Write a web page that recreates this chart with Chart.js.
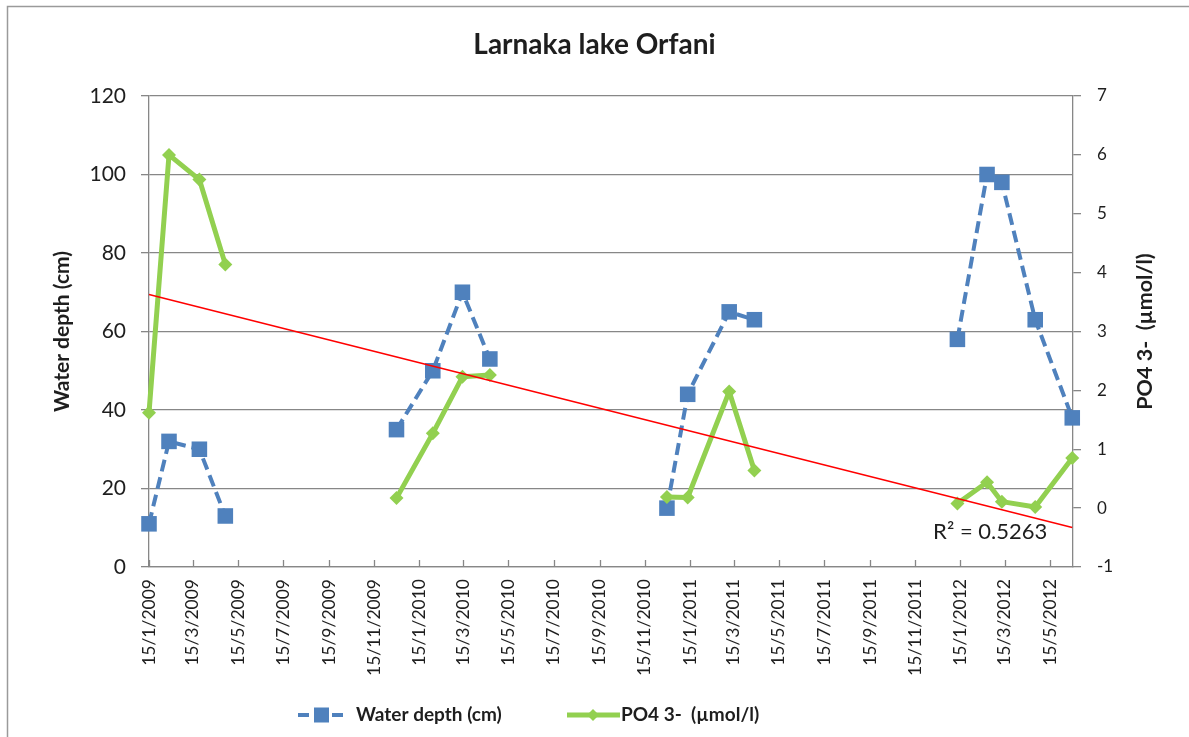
<!DOCTYPE html>
<html><head><meta charset="utf-8">
<script src="https://cdn.jsdelivr.net/npm/chart.js@4/dist/chart.umd.min.js"></script>
<style>html,body{margin:0;padding:0;background:#fff}#wrap{position:relative;width:1189px;height:737px}</style>
</head><body><div id="wrap"><canvas id="c" width="1189" height="737"></canvas></div>
<script>
const chartTitle = 'Larnaka lake Orfani';
const leftAxisTitle = 'Water depth (cm)';
const rightAxisTitle = 'PO4 3-  (\u00b5mol/l)';
const seriesNames = ['Water depth (cm)', 'PO4 3-  (\u00b5mol/l)'];
const sampleDates = ['15/1/2009','11/2/2009','24/3/2009','28/4/2009','15/8/2009',
  '15/12/2009','2/2/2010','14/3/2010','20/4/2010','15/8/2010',
  '15/12/2010','12/1/2011','9/3/2011','12/4/2011','15/8/2011',
  '11/1/2012','20/2/2012','11/3/2012','25/4/2012','14/6/2012'];
const waterDepth = [11,32,30,13,null, 35,50,70,53,null, 15,44,65,63,null, 58,100,98,63,38];
const po4 = [1.62,6.0,5.58,4.14,null, 0.17,1.27,2.23,2.26,null, 0.19,0.18,1.98,0.64,null, 0.08,0.44,0.11,0.02,0.85];
const trendDates = ['15/1/2009','14/6/2012'];
const trendPO4 = [3.63,-0.33];
const trendLabel = 'R\u00b2 = 0.5263';
const xRange = ['15/1/2009','15/6/2012'];
const xTickLabels = ['15/1/2009','15/3/2009','15/5/2009','15/7/2009','15/9/2009','15/11/2009',
  '15/1/2010','15/3/2010','15/5/2010','15/7/2010','15/9/2010','15/11/2010',
  '15/1/2011','15/3/2011','15/5/2011','15/7/2011','15/9/2011','15/11/2011',
  '15/1/2012','15/3/2012','15/5/2012'];
const depthRange = [0,120,20];
const po4Range = [-1,7,1];

const BLUE = '#4F81BD', GREEN = '#92D050', RED = '#FF0000', GRID = '#878787', TXT = '#1e1e1e';
const FONT = 'Lato, "Open Sans", sans-serif';

function dayNum(s){const p=s.split('/').map(Number);const b=xRange[0].split('/').map(Number);
  return Math.round((Date.UTC(p[2],p[1]-1,p[0])-Date.UTC(b[2],b[1]-1,b[0]))/86400000);}
const tickMap = {};
xTickLabels.forEach(l=>{tickMap[dayNum(l)] = l;});

const extras = {
  id:'extras',
  beforeDraw(chart){
    const ctx=chart.ctx; ctx.save();
    ctx.strokeStyle='#9a9a9a'; ctx.lineWidth=1.5;
    ctx.strokeRect(7.5,6.5,3000,3000);
    ctx.restore();
  },
  afterDraw(chart){
    const ctx=chart.ctx, xs=chart.scales.x, y2=chart.scales.y2, ca=chart.chartArea;
    ctx.save();
    ctx.strokeStyle=GRID; ctx.lineWidth=1.3;
    xs.ticks.forEach(t=>{const px=Math.round(xs.getPixelForValue(t.value))+0.5;
      ctx.beginPath();ctx.moveTo(px,ca.bottom);ctx.lineTo(px,ca.bottom-7);ctx.stroke();});
    ctx.fillStyle=TXT; ctx.font='bold 21.5px '+FONT; ctx.textAlign='center'; ctx.textBaseline='middle';
    ctx.translate(1145,(ca.top+ca.bottom)/2); ctx.rotate(-Math.PI/2); ctx.fillText(rightAxisTitle,0,0);
    ctx.setTransform(1,0,0,1,0,0);
    const ex=xs.getPixelForValue(dayNum(trendDates[1])), ey=y2.getPixelForValue(trendPO4[1]);
    ctx.font='22px '+FONT; ctx.textAlign='right'; ctx.textBaseline='middle';
    ctx.fillText(trendLabel, ex-25, ey+4);
    const ly=715;
    ctx.strokeStyle=BLUE; ctx.lineWidth=4; ctx.setLineDash([11,6]);
    ctx.beginPath(); ctx.moveTo(298,ly); ctx.lineTo(345,ly); ctx.stroke(); ctx.setLineDash([]);
    ctx.fillStyle=BLUE; ctx.fillRect(314,ly-7.5,15,15);
    ctx.strokeStyle=GREEN; ctx.lineWidth=5;
    ctx.beginPath(); ctx.moveTo(567,ly); ctx.lineTo(620,ly); ctx.stroke();
    ctx.fillStyle=GREEN; ctx.beginPath(); ctx.moveTo(593,ly-6);ctx.lineTo(599,ly);ctx.lineTo(593,ly+6);ctx.lineTo(587,ly);ctx.closePath();ctx.fill();
    ctx.fillStyle=TXT; ctx.font='bold 19px '+FONT; ctx.textAlign='left'; ctx.textBaseline='middle';
    ctx.fillText(seriesNames[0],356,ly); ctx.fillText(seriesNames[1],621,ly);
    ctx.restore();
  }
};

const toPts=(dates,vals)=>dates.map((d,i)=>({x:dayNum(d),y:vals[i]}));

new Chart(document.getElementById('c'),{
  type:'line',
  data:{datasets:[
    {label:'trend',data:toPts(trendDates,trendPO4),yAxisID:'y2',borderColor:RED,borderWidth:1.5,pointRadius:0,order:0,clip:false},
    {label:seriesNames[1],data:toPts(sampleDates,po4),yAxisID:'y2',borderColor:GREEN,backgroundColor:GREEN,borderWidth:5,
      pointStyle:'rectRot',pointRadius:7,pointBorderWidth:0,pointBackgroundColor:GREEN,spanGaps:false,order:1,clip:false,borderJoinStyle:'round'},
    {label:seriesNames[0],data:toPts(sampleDates,waterDepth),yAxisID:'y',borderColor:BLUE,backgroundColor:BLUE,borderWidth:4,borderDash:[12,6],
      pointStyle:'rect',pointRadius:11,pointBorderWidth:0,pointBackgroundColor:BLUE,spanGaps:false,order:2,clip:false}
  ]},
  options:{
    responsive:false,animation:false,
    layout:{padding:{left:0,right:0,top:0,bottom:0}},
    plugins:{
      legend:{display:false},tooltip:{enabled:false},
      title:{display:true,text:chartTitle,color:TXT,font:{family:FONT,size:28,weight:'bold',lineHeight:1.2},padding:{top:28,bottom:34.4}}
    },
    scales:{
      x:{type:'linear',min:dayNum(xRange[0]),max:dayNum(xRange[1]),
        afterBuildTicks:s=>{s.ticks=xTickLabels.map(l=>({value:dayNum(l)}));},
        afterFit:s=>{s.height=170;},
        grid:{display:true,drawOnChartArea:false,drawTicks:false},
        border:{display:true,color:GRID,width:1.3},
        ticks:{autoSkip:false,minRotation:90,maxRotation:90,padding:12,color:TXT,font:{family:FONT,size:17.5},
          callback:v=>tickMap[v]||''}},
      y:{position:'left',min:depthRange[0],max:depthRange[1],
        afterFit:s=>{s.width=149;},
        ticks:{stepSize:depthRange[2],padding:15,color:TXT,font:{family:FONT,size:21}},
        grid:{color:GRID,lineWidth:1.3,tickLength:8},
        border:{display:true,color:GRID,width:1.3},
        title:{display:true,text:leftAxisTitle,color:TXT,font:{family:FONT,size:21,weight:'bold',lineHeight:1.2},padding:{top:49.4,bottom:0}}},
      y2:{position:'right',min:po4Range[0],max:po4Range[1],
        afterFit:s=>{s.width=116;},
        ticks:{stepSize:po4Range[2],padding:16,color:TXT,font:{family:FONT,size:17}},
        grid:{drawOnChartArea:false,color:GRID,lineWidth:1.3,tickLength:8},
        border:{display:true,color:GRID,width:1.3}}
    }
  },
  plugins:[extras]
});
</script></body></html>
